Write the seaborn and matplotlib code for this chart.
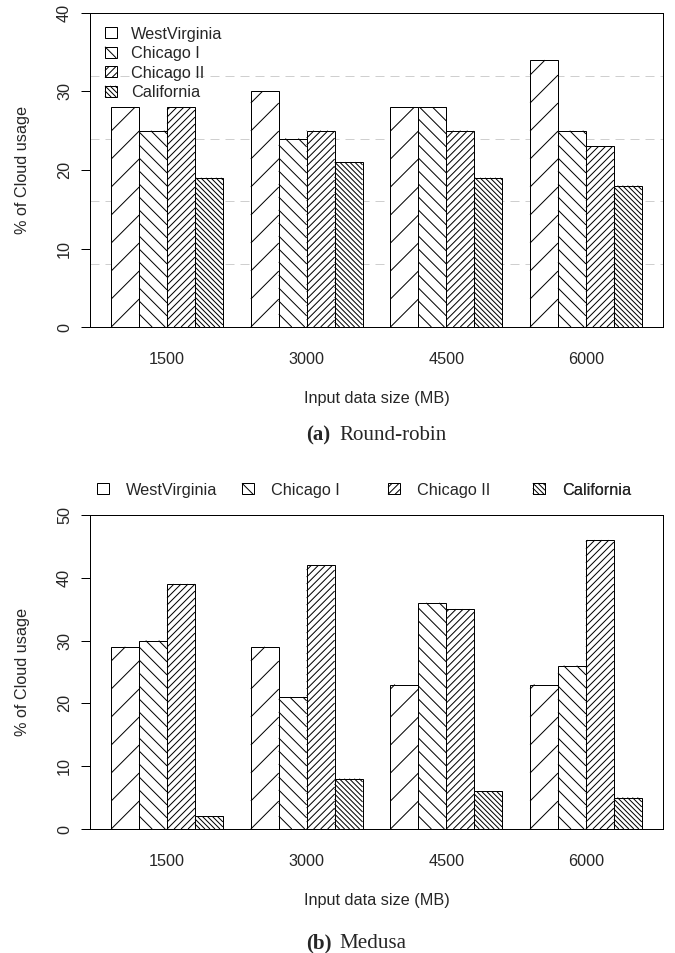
import math

import matplotlib
matplotlib.use("Agg")
import matplotlib.pyplot as plt
import pandas as pd
import seaborn as sns
from matplotlib.collections import LineCollection
from matplotlib.legend_handler import HandlerBase
from matplotlib.patches import Rectangle

DPI = 160
FIG_W_PX, FIG_H_PX = 675, 953

STORRELSER = ["1500", "3000", "4500", "6000"]
SITES = ["WestVirginia", "Chicago I", "Chicago II", "California"]

# (a) Round-robin
RR_WEST_VIRGINIA = [28, 30, 28, 34]
RR_CHICAGO_I = [25, 24, 28, 25]
RR_CHICAGO_II = [28, 25, 25, 23]
RR_CALIFORNIA = [19, 21, 19, 18]

# (b) Medusa
MED_WEST_VIRGINIA = [29, 29, 23, 23]
MED_CHICAGO_I = [30, 21, 36, 26]
MED_CHICAGO_II = [39, 42, 35, 46]
MED_CALIFORNIA = [2, 8, 6, 5]

# skravur per site: retning og linjeavstand i piksler
SKRAVUR = [("/", 28.0), ("\\", 13.0), ("/", 7.0), ("\\", 5.0)]


def px(v):
    # piksler -> punkter ved valgt dpi
    return v * 72 / DPI


FS = px(16.3)
FS_CAPTION = px(21)


def hatch_segmenter(x0, y0, x1, y1, retning, avstand, fase):
    segs = []
    if retning == "/":
        cmin, cmax = y0 - x1, y1 - x0
        c = fase + math.ceil((cmin - fase) / avstand) * avstand
        while c <= cmax:
            xa, xb = max(x0, y0 - c), min(x1, y1 - c)
            if xb > xa:
                segs.append([(xa, xa + c), (xb, xb + c)])
            c += avstand
    else:
        cmin, cmax = x0 + y0, x1 + y1
        c = fase + math.ceil((cmin - fase) / avstand) * avstand
        while c <= cmax:
            xa, xb = max(x0, c - y1), min(x1, c - y0)
            if xb > xa:
                segs.append([(xa, c - xa), (xb, c - xb)])
            c += avstand
    return segs


class HandlerSkravur(HandlerBase):
    def __init__(self, retning, avstand_px, tom=False):
        super().__init__()
        self.retning = retning
        self.avstand = px(avstand_px)
        self.tom = tom

    def create_artists(self, legend, orig_handle, xdescent, ydescent, width, height, fontsize, trans):
        x0, y0 = -xdescent, -ydescent
        x1, y1 = x0 + width, y0 + height
        rect = Rectangle((x0, y0), width, height, facecolor="white", edgecolor="black",
                         linewidth=px(1), transform=trans)
        if self.retning == "/":
            fase = y0 - x0 + (self.avstand / 2 if self.tom else 0)
        else:
            fase = x0 + y1
        segs = hatch_segmenter(x0, y0, x1, y1, self.retning, self.avstand, fase)
        lc = LineCollection(segs, colors="black", linewidths=px(1), transform=trans)
        return [rect, lc]


def lag_long_df(serier):
    rader = []
    for site, verdier in zip(SITES, serier):
        for storrelse, verdi in zip(STORRELSER, verdier):
            rader.append({"size": storrelse, "site": site, "usage": verdi})
    return pd.DataFrame(rader)


def skraver_stolper(ax):
    til_data = ax.transData.inverted()
    for container, (retning, avstand) in zip(ax.containers, SKRAVUR):
        alle = []
        for bar in container:
            ext = bar.get_window_extent()
            x0, y0, x1, y1 = ext.x0, ext.y0, ext.x1, ext.y1
            fase = y0 - x0 if retning == "/" else x0 + y0
            for seg in hatch_segmenter(x0, y0, x1, y1, retning, avstand, fase):
                alle.append(til_data.transform(seg))
        ax.add_collection(LineCollection(alle, colors="black", linewidths=px(1), zorder=2))


def tegn_panel(ax, df, ymax, yticks, grid_vals):
    sns.barplot(
        data=df, x="size", y="usage", hue="site",
        order=STORRELSER, hue_order=SITES,
        palette=["white"] * 4, saturation=1,
        edgecolor="black", linewidth=px(1), errorbar=None,
        legend=False, ax=ax,
    )
    ax.set_xlim(-0.552, 3.552)
    ax.set_ylim(0, ymax)
    ax.set_yticks(yticks)
    ax.set_yticks(grid_vals, minor=True)
    ax.set_axisbelow(True)
    ax.grid(False)
    ax.grid(which="minor", axis="y", color="#cfcfcf", linewidth=px(1),
            linestyle=(0, (9, 6)))

    ax.tick_params(axis="x", length=0, pad=px(24.5), labelsize=FS)
    ax.tick_params(axis="y", which="major", length=px(9.5), width=px(1),
                   pad=px(8.5), labelsize=FS, labelrotation=90, left=True, color="black")
    ax.tick_params(axis="y", which="minor", length=0)
    for lab in ax.get_yticklabels():
        lab.set_va("center")

    for spine in ax.spines.values():
        spine.set_visible(True)
        spine.set_color("black")
        spine.set_linewidth(px(1))

    ax.set_xlabel("Input data size (MB)", fontsize=FS)
    ax.set_ylabel("% of Cloud usage", fontsize=FS)
    ax.xaxis.set_label_coords(0.5, (327 - 399) / 314)
    ax.xaxis.label.set_va("center")
    ax.yaxis.set_label_coords((23 - 90) / 573, 0.5)
    ax.yaxis.label.set_va("center")

    skraver_stolper(ax)


def main():
    sns.set_theme(style="white")
    plt.rcParams["font.family"] = ["Liberation Sans", "DejaVu Sans"]

    fig = plt.figure(figsize=(FIG_W_PX / DPI, FIG_H_PX / DPI), dpi=DPI)
    left = 90 / FIG_W_PX
    width = 573 / FIG_W_PX
    ax_a = fig.add_axes([left, (FIG_H_PX - 327) / FIG_H_PX, width, 314 / FIG_H_PX])
    ax_b = fig.add_axes([left, (FIG_H_PX - 829) / FIG_H_PX, width, 314 / FIG_H_PX])

    df_a = lag_long_df([RR_WEST_VIRGINIA, RR_CHICAGO_I, RR_CHICAGO_II, RR_CALIFORNIA])
    df_b = lag_long_df([MED_WEST_VIRGINIA, MED_CHICAGO_I, MED_CHICAGO_II, MED_CALIFORNIA])

    tegn_panel(ax_a, df_a, 40, [0, 10, 20, 30, 40], [8, 16, 24, 32])
    tegn_panel(ax_b, df_b, 50, [0, 10, 20, 30, 40, 50], [10, 20, 30, 40])

    def lag_handles():
        handles = [Rectangle((0, 0), 1, 1) for _ in SITES]
        kart = {h: HandlerSkravur(r, a, tom=(i == 0)) for i, (h, (r, a)) in enumerate(zip(handles, SKRAVUR))}
        return handles, kart

    leg_kw = dict(frameon=False, borderpad=0, borderaxespad=0, handlelength=0.736,
                  handleheight=0.675, fontsize=FS)

    handles, kart = lag_handles()
    ax_a.legend(handles=handles, labels=SITES, handler_map=kart, loc="upper left",
                bbox_to_anchor=(0.0262, 0.957), labelspacing=0.28, handletextpad=0.85, **leg_kw)

    handles, kart = lag_handles()
    for h, navn, x0 in zip(handles, SITES, [0.0122, 0.2653, 0.5201, 0.7731]):
        leg = ax_b.legend(handles=[h], labels=[navn], handler_map={h: kart[h]}, loc="center left",
                          bbox_to_anchor=(x0, 1.0796), handletextpad=1.03, **leg_kw)
        ax_b.add_artist(leg)

    for bokstav, tekst, y in [("(a)", "Round-robin", 435), ("(b)", "Medusa", 943)]:
        yf = (FIG_H_PX - y) / FIG_H_PX
        fig.text(306 / FIG_W_PX, yf, bokstav, fontsize=FS_CAPTION, fontweight="bold",
                 family=["Liberation Serif", "DejaVu Serif"], ha="left", va="center")
        fig.text(339 / FIG_W_PX, yf, tekst, fontsize=FS_CAPTION,
                 family=["Liberation Serif", "DejaVu Serif"], ha="left", va="center")

    fig.savefig("out.png", dpi=DPI, facecolor="white")
    plt.close(fig)


if __name__ == "__main__":
    main()
